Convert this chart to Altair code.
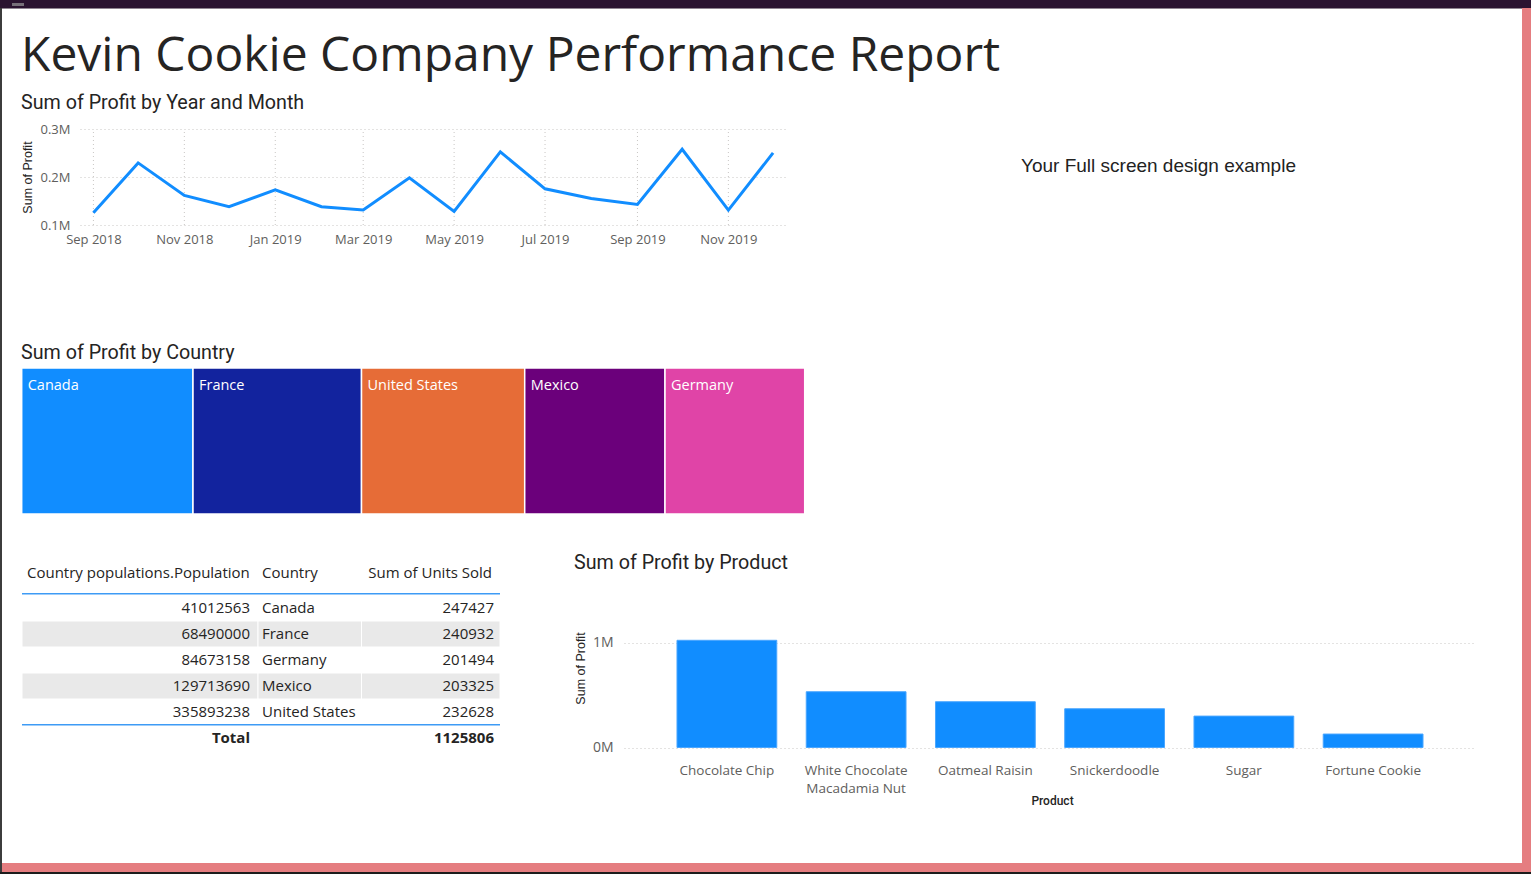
import altair as alt
import pandas as pd

W, H = 1531, 874

BLUE = "#118DFF"
INK = "#252423"
GREY = "#605E5C"
GRID = "#C8C6C4"
BAND = "#E9E9E9"
UI_FONT = "Segoe UI, Open Sans, sans-serif"
HEAD_FONT = "DIN, Roboto, sans-serif"
ARIAL = "Arial, Liberation Sans, sans-serif"

# ---------------- data ----------------
report_title = ["Kevin Cookie Company Performance Report"]
side_note = ["Your Full screen design example"]
visual_titles = ["Sum of Profit by Year and Month", "Sum of Profit by Country", "Sum of Profit by Product"]

months = ["2018-09-01", "2018-10-01", "2018-11-01", "2018-12-01",
          "2019-01-01", "2019-02-01", "2019-03-01", "2019-04-01",
          "2019-05-01", "2019-06-01", "2019-07-01", "2019-08-01",
          "2019-09-01", "2019-10-01", "2019-11-01", "2019-12-01"]
monthly_profit = [125600, 229400, 161600, 138100, 173400, 138100, 131100, 198300,
                  128400, 252200, 175400, 155400, 142900, 257800, 131100, 250200]
month_ticks = ["2018-09-01", "2018-11-01", "2019-01-01", "2019-03-01",
               "2019-05-01", "2019-07-01", "2019-09-01", "2019-11-01"]

countries = ["Canada", "France", "United States", "Mexico", "Germany"]
country_profit = [609300, 599400, 580500, 499000, 496900]
country_colors = ["#118DFF", "#12239E", "#E66C37", "#6B007B", "#E044A7"]

table_headers = ["Country populations.Population", "Country", "Sum of Units Sold"]
table_countries = ["Canada", "France", "Germany", "Mexico", "United States"]
populations = [41012563, 68490000, 84673158, 129713690, 335893238]
units_sold = [247427, 240932, 201494, 203325, 232628]

products = ["Chocolate Chip", "White Chocolate Macadamia Nut", "Oatmeal Raisin",
            "Snickerdoodle", "Sugar", "Fortune Cookie"]
product_profit = [1021000, 531000, 436000, 369000, 299000, 128000]

# ---------------- helpers ----------------
def label(text, x, y, size, font, color=INK, weight="normal", align="left", baseline="alphabetic"):
    return alt.Chart(pd.DataFrame({"t": [text]})).mark_text(
        font=font, fontSize=size, fontWeight=weight, color=color,
        align=align, baseline=baseline
    ).encode(text="t:N", x=alt.value(x), y=alt.value(y))


def block(x, x2, y, y2, color):
    return alt.Chart(pd.DataFrame({"k": [0]})).mark_rect(color=color).encode(
        x=alt.value(x), x2=alt.value(x2), y=alt.value(y), y2=alt.value(y2))


# ---------------- page frame ----------------
frame = [
    block(0, W, 0, 8, "#2A1330"),
    block(0, W, 8, 9, "#8E8490"),
    block(12, 24, 3, 6, "#77707A"),
    block(0, 2, 8, H, "#3C3C3C"),
    block(1522, W, 8, 872, "#E57D80"),
    block(2, W, 863, 872, "#E57D80"),
    block(0, W, 872, H, "#1C1C1C"),
]

texts = [
    label(report_title[0], 21, 71, 48, UI_FONT),
    label(side_note[0], 1021, 172, 19, ARIAL, color="#222222"),
    label(visual_titles[0], 21, 109, 19.7, HEAD_FONT),
    label(visual_titles[1], 21, 359, 19.7, HEAD_FONT),
    label(visual_titles[2], 574, 569, 19.7, HEAD_FONT),
]

# ---------------- line chart ----------------
line_df = pd.DataFrame({"month": months, "profit": monthly_profit})
tick_df = pd.DataFrame({"month": month_ticks, "lo": 100000, "hi": 300000})

x_month_scale = alt.Scale(
    type="utc",
    domain=[alt.DateTime(year=2018, month=8, date=23, utc=True),
            alt.DateTime(year=2019, month=12, date=9, utc=True)],
    range=[80, 785],
)
y_profit_scale = alt.Scale(domain=[100000, 300000], range=[225, 129], nice=False, zero=False)

month_axis = alt.Axis(
    orient="bottom", offset=-649, title=None,
    labelExpr="utcFormat(datum.value, '%b %Y')",
    values=[alt.DateTime(year=int(m[:4]), month=int(m[5:7]), date=1, utc=True) for m in month_ticks],
    labelFont=UI_FONT, labelFontSize=13, labelColor=GREY, labelPadding=8,
    labelFlush=False, labelOverlap=False, domain=False, ticks=False, grid=False)
profit_axis = alt.Axis(
    orient="left", offset=-80, values=[100000, 200000, 300000],
    labelExpr="format(datum.value / 1000000, '.1f') + 'M'",
    labelFont=UI_FONT, labelFontSize=13, labelColor=GREY, labelPadding=10,
    domain=False, ticks=False, grid=True, gridColor=GRID, gridDash=[1, 3],
    title="Sum of Profit", titleFont=ARIAL, titleFontSize=12.5, titleFontWeight="normal",
    titleColor=INK, titleX=-53, titleY=177, titleAngle=270,
    titleAlign="center", titleBaseline="middle")

v_grid = alt.Chart(tick_df).mark_rule(color=GRID, strokeDash=[1, 3], strokeWidth=1).encode(
    x=alt.X("month:T", scale=x_month_scale, axis=month_axis),
    y=alt.Y("lo:Q", scale=y_profit_scale, axis=profit_axis),
    y2="hi:Q",
)
line = alt.Chart(line_df).mark_line(color=BLUE, strokeWidth=3).encode(
    x=alt.X("month:T", scale=x_month_scale, axis=month_axis),
    y=alt.Y("profit:Q", scale=y_profit_scale, axis=profit_axis),
)
line_part = alt.layer(v_grid, line)

# ---------------- treemap strip ----------------
tree_df = pd.DataFrame({"country": countries, "profit": country_profit, "row": "all"})
tree_base = alt.Chart(tree_df).transform_stack(
    stack="profit", as_=["p0", "p1"], groupby=[],
    sort=[alt.SortField("profit", order="descending")],
)
tree_x = alt.Scale(domain=[0, sum(country_profit)], range=[21.7, 804.7], nice=False, zero=False)
tree_y = alt.Scale(range=[368, 514], paddingInner=0, paddingOuter=0)

tree_rects = tree_base.mark_rect(stroke="white", strokeWidth=1.5).encode(
    x=alt.X("p0:Q", scale=tree_x, axis=None),
    x2="p1:Q",
    y=alt.Y("row:N", scale=tree_y, axis=None),
    color=alt.Color("country:N", scale=alt.Scale(domain=countries, range=country_colors), legend=None),
)
tree_labels = tree_base.mark_text(
    align="left", baseline="middle", dx=6, dy=-55, color="white",
    font=UI_FONT, fontSize=14.5,
).encode(
    x=alt.X("p0:Q", scale=tree_x, axis=None),
    y=alt.Y("row:N", scale=tree_y, axis=None),
    text="country:N",
)
tree_part = alt.layer(tree_rects, tree_labels)

# ---------------- table ----------------
rows = table_countries + ["Total"]
table_df = pd.DataFrame({
    "row": table_countries,
    "pop": [str(p) for p in populations],
    "units": [str(u) for u in units_sold],
    "striped": [i % 2 == 1 for i in range(len(table_countries))],
})
total_df = pd.DataFrame({"row": ["Total"], "pop": ["Total"], "units": [str(sum(units_sold))]})
row_scale = alt.Scale(domain=rows, range=[595, 751], paddingInner=0, paddingOuter=0)

def row_y():
    return alt.Y("row:N", scale=row_scale, axis=None)

stripes = [
    alt.Chart(table_df).transform_filter("datum.striped").mark_rect(
        color=BAND, stroke="white", strokeWidth=1
    ).encode(x=alt.value(a), x2=alt.value(b), y=row_y())
    for a, b in [(22, 258), (258, 361.5), (361.5, 500)]
]

cell_font = dict(font=UI_FONT, fontSize=15, color=INK, baseline="middle")
pop_col = alt.Chart(table_df).mark_text(align="right", **cell_font).encode(
    x=alt.value(250), y=row_y(), text="pop:N")
country_col = alt.Chart(table_df).mark_text(align="left", **cell_font).encode(
    x=alt.value(262), y=row_y(), text="row:N")
units_col = alt.Chart(table_df).mark_text(align="right", **cell_font).encode(
    x=alt.value(494), y=row_y(), text="units:N")
total_pop = alt.Chart(total_df).mark_text(align="right", fontWeight="bold", **cell_font).encode(
    x=alt.value(250), y=row_y(), text="pop:N")
total_units = alt.Chart(total_df).mark_text(align="right", fontWeight="bold", **cell_font).encode(
    x=alt.value(494), y=row_y(), text="units:N")

header_df = pd.DataFrame({"h": table_headers})
headers = [
    alt.Chart(header_df).transform_filter(alt.datum.h == table_headers[0]).mark_text(
        align="left", **cell_font).encode(x=alt.value(27), y=alt.value(573), text="h:N"),
    alt.Chart(header_df).transform_filter(alt.datum.h == table_headers[1]).mark_text(
        align="left", **cell_font).encode(x=alt.value(262), y=alt.value(573), text="h:N"),
    alt.Chart(header_df).transform_filter(alt.datum.h == table_headers[2]).mark_text(
        align="right", **cell_font).encode(x=alt.value(492), y=alt.value(573), text="h:N"),
]
table_lines = [
    block(22, 500, 593, 594.5, "#3E9BF5"),
    block(22, 500, 724, 725.5, "#3E9BF5"),
]
table_part = alt.layer(*stripes, pop_col, country_col, units_col, total_pop, total_units)

# ---------------- product bars ----------------
prod_df = pd.DataFrame({"product": products, "profit": product_profit})
bars = alt.Chart(prod_df).mark_bar(color=BLUE, stroke="#4AA6FF", strokeWidth=1).encode(
    x=alt.X("product:N", sort=products,
            scale=alt.Scale(range=[624, 1476], paddingInner=0.228, paddingOuter=0.41),
            axis=alt.Axis(
                orient="bottom", offset=-126.5, labelAngle=0,
                labelExpr="length(datum.label) > 16 ? [join(slice(split(datum.label, ' '), 0, 2), ' '), join(slice(split(datum.label, ' '), 2), ' ')] : datum.label",
                labelFont=UI_FONT, labelFontSize=13.5, labelColor=GREY, labelPadding=16,
                labelLineHeight=18, labelLimit=300,
                domain=False, ticks=False, grid=False,
                title="Product", titleFont=HEAD_FONT, titleFontSize=12, titleFontWeight=500,
                titleColor=INK, titleX=1052, titleY=53, titleBaseline="middle")),
    y=alt.Y("profit:Q",
            scale=alt.Scale(domain=[0, 1000000], range=[747.5, 642.5], nice=False),
            axis=alt.Axis(
                orient="left", offset=-622, values=[0, 1000000],
                labelExpr="format(datum.value / 1000000, 'd') + 'M'",
                labelFont=UI_FONT, labelFontSize=14, labelColor=GREY, labelPadding=9,
                domain=False, ticks=False, grid=True, gridColor=GRID, gridDash=[1, 3],
                title="Sum of Profit", titleFont=ARIAL, titleFontSize=12.5, titleFontWeight="normal",
                titleColor=INK, titleX=-42, titleY=668, titleAngle=270,
                titleAlign="center", titleBaseline="middle")),
)
bar_part = alt.layer(bars)

chart = alt.layer(
    *frame, *texts, *headers, *table_lines,
    line_part, tree_part, table_part, bar_part,
).resolve_scale(
    x="independent", y="independent", color="independent"
).properties(
    width=W, height=H, padding=0,
    autosize=alt.AutoSizeParams(type="none"),
    background="white",
).configure_view(stroke="transparent")

chart.save("out.html", embed_options={"renderer": "svg", "actions": False})
